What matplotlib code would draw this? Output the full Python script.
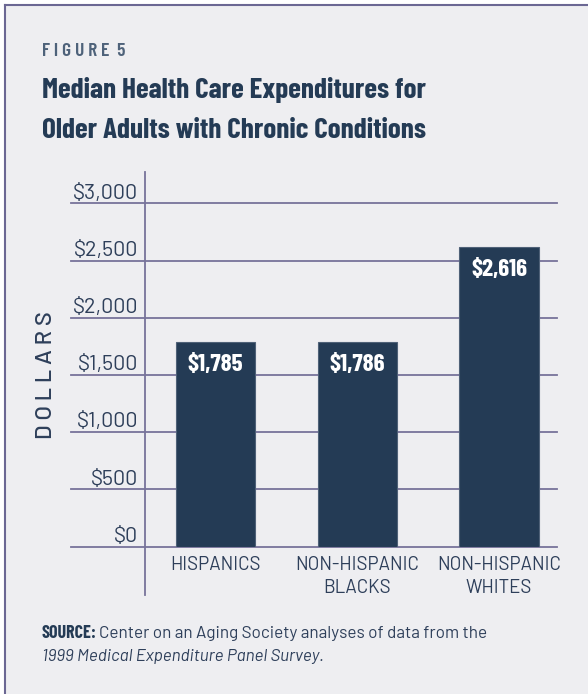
import matplotlib
matplotlib.use("Agg")
import matplotlib.pyplot as plt
from matplotlib.patches import Rectangle
from matplotlib.lines import Line2D

# data
groups = ["HISPANICS", "NON-HISPANIC\nBLACKS", "NON-HISPANIC\nWHITES"]
spending = [1785, 1786, 2616]
value_labels = ["$1,785", "$1,786", "$2,616"]
y_ticks = [0, 500, 1000, 1500, 2000, 2500, 3000]
y_tick_labels = ["$0", "$500", "$1,000", "$1,500", "$2,000", "$2,500", "$3,000"]

W, H = 588, 694
bg = "#EEEEF1"
navy = "#243B55"
txt = "#2E3F5A"
grid = "#77739A"
cond = ["Barlow Condensed", "Roboto Condensed", "DejaVu Sans"]
body = ["Barlow", "Roboto", "DejaVu Sans"]

fig = plt.figure(figsize=(W / 100, H / 100), dpi=100, facecolor="white")

# panel background and frame (left + top only)
fig.add_artist(Rectangle((4 / W, 0), 1 - 4 / W, 1 - 4 / H, transform=fig.transFigure,
                         facecolor=bg, edgecolor="none", zorder=0))
fig.add_artist(Line2D([4.5 / W, 4.5 / W], [0, 1 - 4.5 / H], transform=fig.transFigure,
                      color="#6B6793", lw=1.5))
fig.add_artist(Line2D([4.5 / W, 1], [1 - 4.5 / H, 1 - 4.5 / H], transform=fig.transFigure,
                      color="#6B6793", lw=1.5))

# axes: x from 71px to 557px, y from 0 (546.7px) to 3275 (172px)
ax_left, ax_right = 71, 557
y0_px, ytop_px = 546.7, 172
ax = fig.add_axes([ax_left / W, (H - y0_px) / H, (ax_right - ax_left) / W, (y0_px - ytop_px) / H])
ax.set_facecolor("none")
ax.set_xlim(-1.02, 2.41)
ax.set_ylim(0, 3275)
ax.axis("off")

for v in y_ticks:
    ax.axhline(v, color=grid, lw=1.3, zorder=1, clip_on=False)
# vertical axis line runs below the baseline
ax.plot([-0.5, -0.5], [-422, 3275], color=grid, lw=1.3, clip_on=False, zorder=1)

ax.bar(range(len(spending)), spending, width=0.56, color=navy, edgecolor="#4F6178",
       linewidth=0.8, zorder=2)

for v, lab in zip(y_ticks, y_tick_labels):
    ax.annotate(lab, (-0.547, v), xytext=(0, 3.5), textcoords="offset points",
                ha="right", va="baseline", fontsize=15.5, color=txt, family=body)

for i, (v, lab) in enumerate(zip(spending, value_labels)):
    ax.annotate(lab, (i, v), xytext=(0, -16), textcoords="offset points",
                ha="center", va="center", fontsize=18, color="white",
                fontweight="bold", family=cond)

for i, g in enumerate(groups):
    ax.annotate(g, (i, 0), xytext=(0, -7), textcoords="offset points",
                ha="center", va="top", fontsize=13.5, color=txt, family=body,
                linespacing=1.3)

fig.text(46.5 / W, 1 - 375 / H, "D O L L A R S", rotation=90, ha="center", va="center",
         fontsize=17, color=txt, family=body, fontweight="medium")

# header
fig.text(42 / W, 1 - 52 / H, "F I G U R E  5", ha="left", va="center",
         fontsize=14, color="#4E627A", fontweight="semibold", family=cond)
fig.text(42 / W, 1 - 90 / H, "Median Health Care Expenditures for", ha="left", va="center",
         fontsize=21, color=navy, fontweight="bold", family=cond)
fig.text(42 / W, 1 - 131 / H, "Older Adults with Chronic Conditions", ha="left", va="center",
         fontsize=21, color=navy, fontweight="bold", family=cond)

# source note
src = fig.text(42 / W, 1 - 638 / H, "SOURCE:", ha="left", va="baseline",
               fontsize=13, color=navy, fontweight="bold", family=cond)
fig.canvas.draw()
bb = src.get_window_extent()
fig.text(bb.x1 / W + 2 / W, 1 - 638 / H, "Center on an Aging Society analyses of data from the",
         ha="left", va="baseline", fontsize=12.3, color=txt, family=body)
fig.text(42 / W, 1 - 661 / H, "1999 Medical Expenditure Panel Survey.", ha="left", va="baseline",
         fontsize=12.3, color=txt, family=body, style="italic")

fig.savefig("out.png", dpi=100, facecolor="white")
